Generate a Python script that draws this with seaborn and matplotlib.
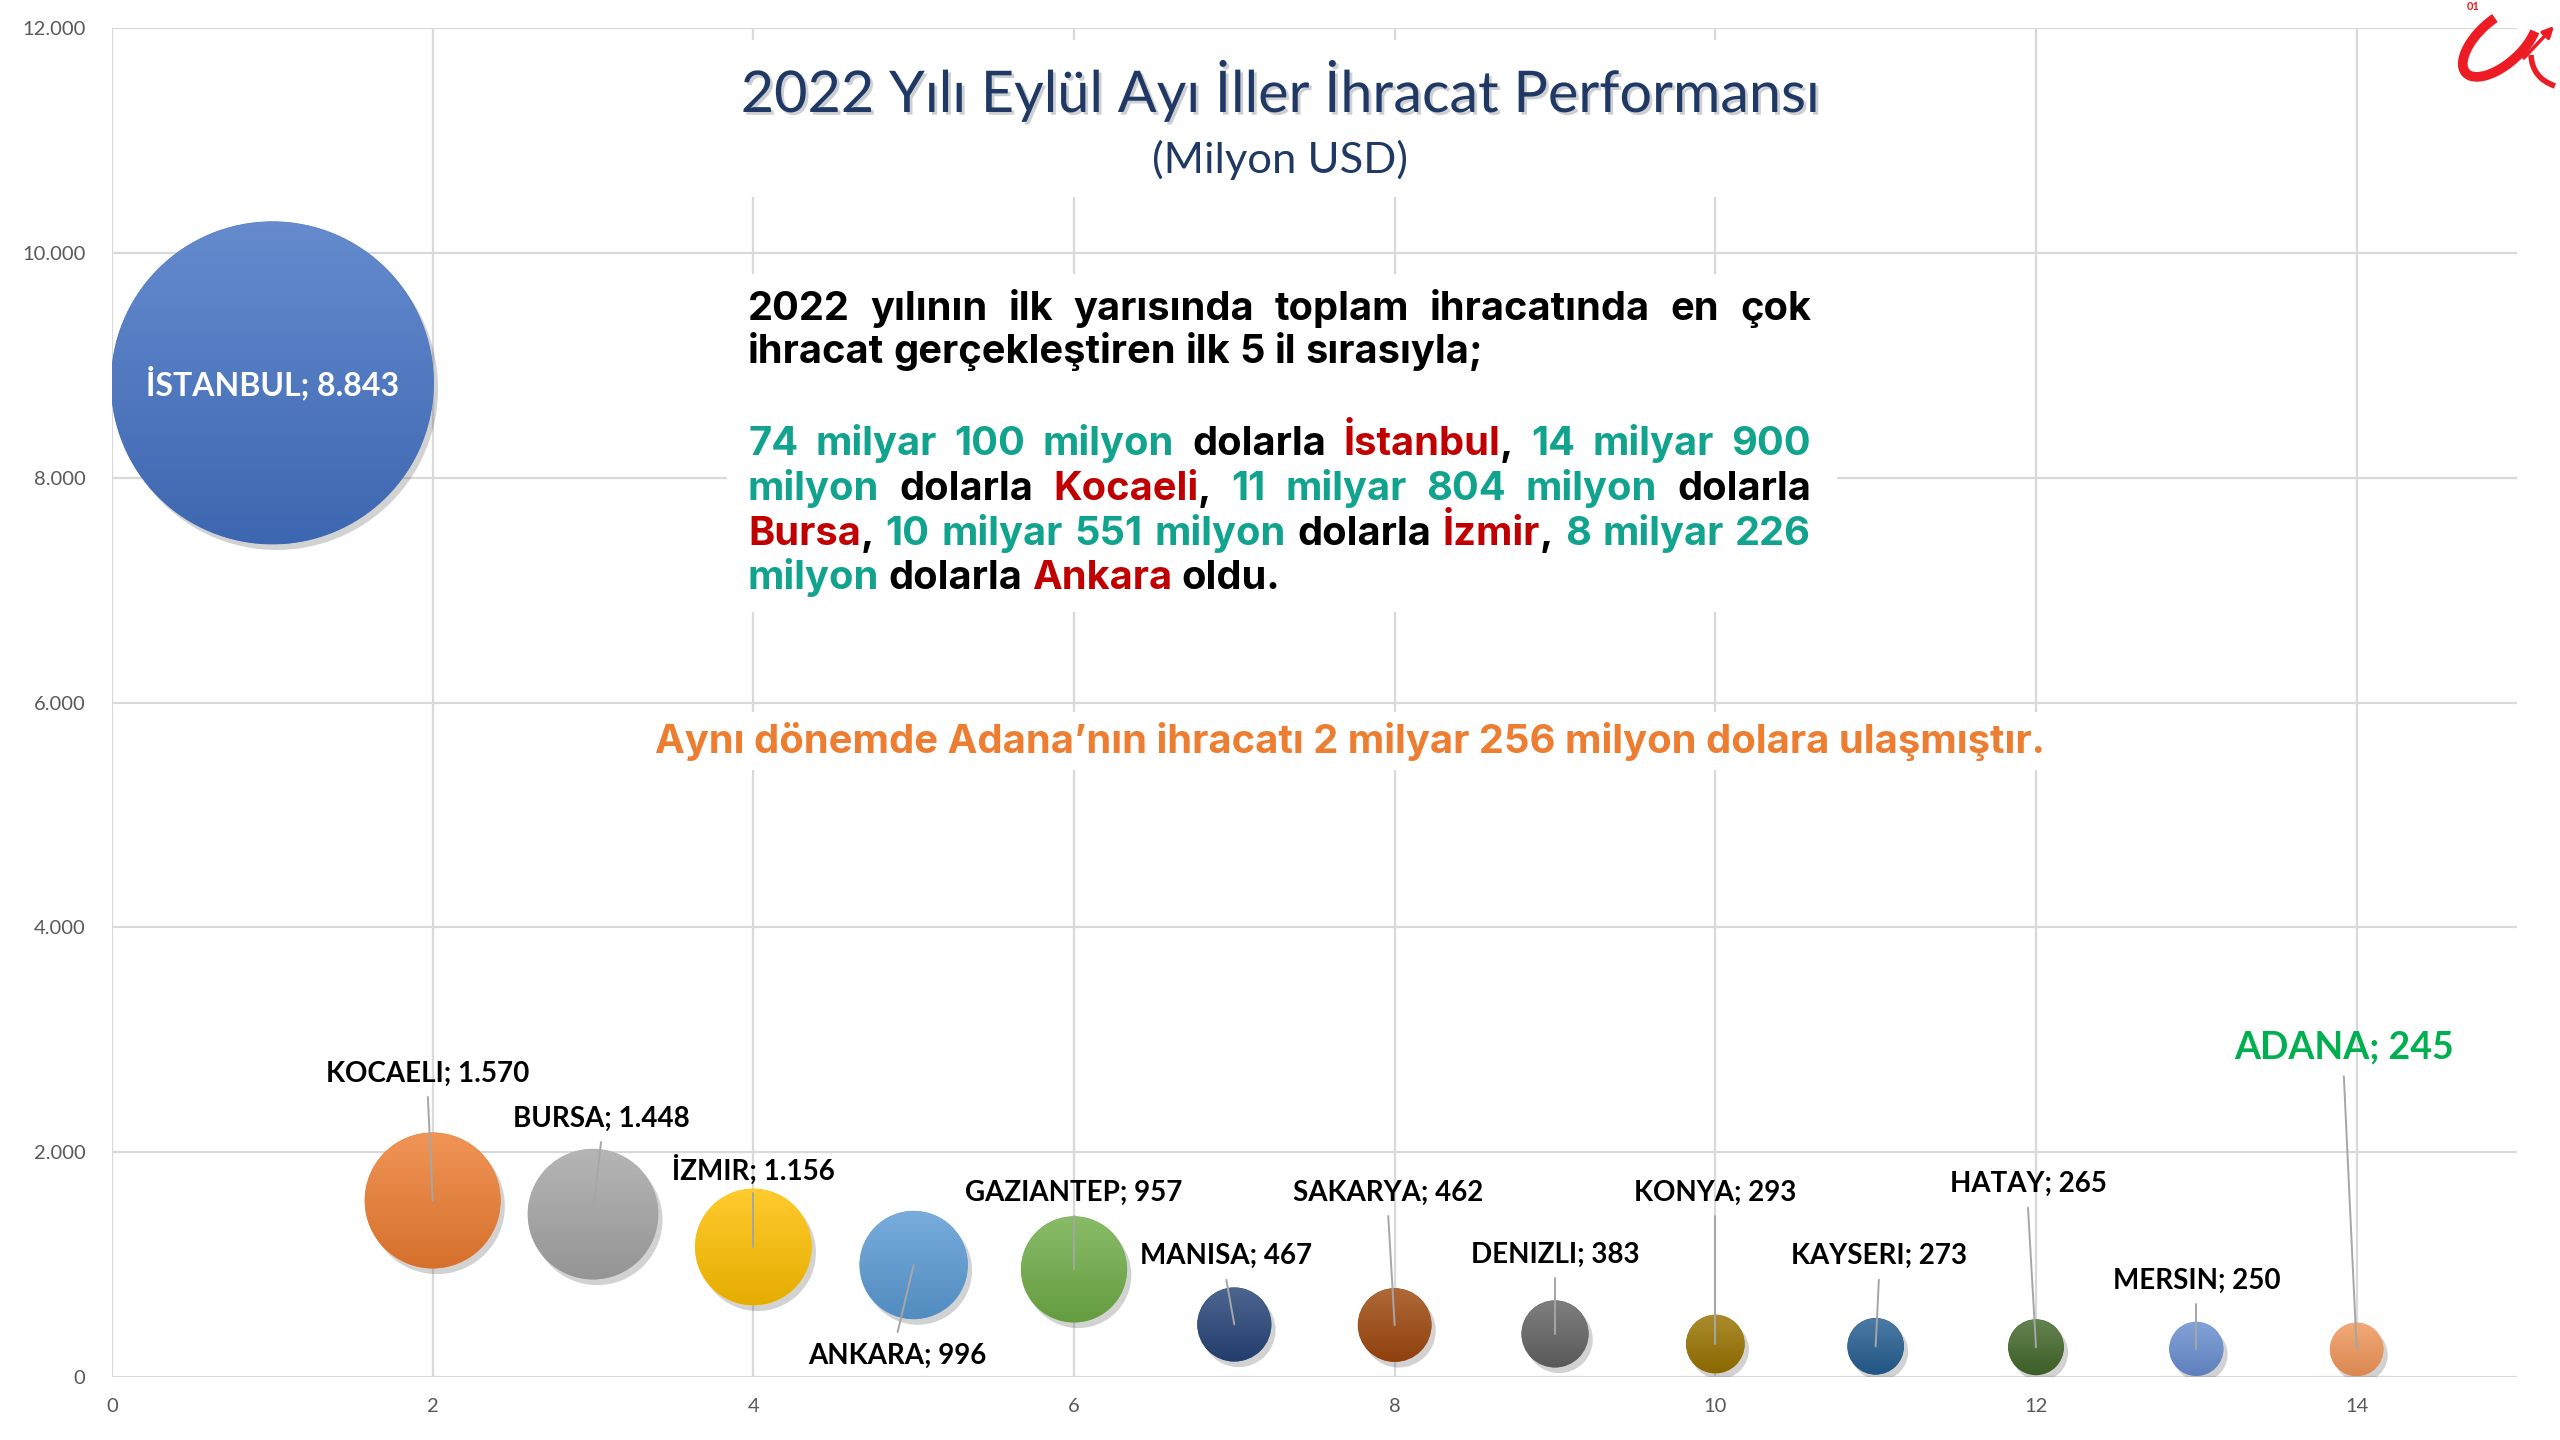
import numpy as np
import pandas as pd
import matplotlib
matplotlib.use("Agg")
import matplotlib.pyplot as plt
import matplotlib.patheffects as pe
from matplotlib.patches import Rectangle, Arc, FancyArrowPatch, PathPatch, Circle
from matplotlib.path import Path
from matplotlib.transforms import IdentityTransform
from matplotlib.font_manager import FontProperties
from matplotlib.colors import to_rgb
import seaborn as sns

# ---------------- data ----------------
cities = ["İSTANBUL", "KOCAELI", "BURSA", "İZMIR", "ANKARA", "GAZIANTEP", "MANISA",
          "SAKARYA", "DENIZLI", "KONYA", "KAYSERI", "HATAY", "MERSIN", "ADANA"]
exports = [8843, 1570, 1448, 1156, 996, 957, 467, 462, 383, 293, 273, 265, 250, 245]
ranks = list(range(1, 15))
colors = ["#4472C4", "#ED7D31", "#A5A5A5", "#FFC000", "#5B9BD5", "#70AD47", "#264478",
          "#9E480E", "#636363", "#997300", "#255E91", "#43682B", "#698ED0", "#F1975A"]
xticks = [0, 2, 4, 6, 8, 10, 12, 14]
yticks = [0, 2000, 4000, 6000, 8000, 10000, 12000]
ytick_labels = ["0", "2.000", "4.000", "6.000", "8.000", "10.000", "12.000"]
title = "2022 Yılı Eylül Ayı İller İhracat Performansı"
subtitle = "(Milyon USD)"
orange_note = "Aynı dönemde Adana’nın ihracatı 2 milyar 256 milyon dolara ulaşmıştır."

TEAL, RED, BLK = "#12A38F", "#C00000", "#000000"
paragraph = [
    [[("2022", BLK)], [("yılının", BLK)], [("ilk", BLK)], [("yarısında", BLK)], [("toplam", BLK)],
     [("ihracatında", BLK)], [("en", BLK)], [("çok", BLK)]],
    [[("ihracat", BLK)], [("gerçekleştiren", BLK)], [("ilk", BLK)], [("5", BLK)], [("il", BLK)],
     [("sırasıyla;", BLK)]],
    None,
    [[("74", TEAL)], [("milyar", TEAL)], [("100", TEAL)], [("milyon", TEAL)], [("dolarla", BLK)],
     [("İstanbul", RED), (",", BLK)], [("14", TEAL)], [("milyar", TEAL)], [("900", TEAL)]],
    [[("milyon", TEAL)], [("dolarla", BLK)], [("Kocaeli", RED), (",", BLK)], [("11", TEAL)],
     [("milyar", TEAL)], [("804", TEAL)], [("milyon", TEAL)], [("dolarla", BLK)]],
    [[("Bursa", RED), (",", BLK)], [("10", TEAL)], [("milyar", TEAL)], [("551", TEAL)],
     [("milyon", TEAL)], [("dolarla", BLK)], [("İzmir", RED), (",", BLK)], [("8", TEAL)],
     [("milyar", TEAL)], [("226", TEAL)]],
    [[("milyon", TEAL)], [("dolarla", BLK)], [("Ankara", RED)], [("oldu.", BLK)]],
]
justify = [True, False, False, True, True, True, False]

# label anchor positions (layout, data coords)
label_x = [1.0, 1.97, 3.05, 4.0, 4.9, 6.0, 6.95, 7.96, 9.0, 10.0, 11.02, 11.95, 13.0, 13.92]
label_y = [8843, 2700, 2300, 1845, 190, 1642, 1075, 1642, 1090, 1642, 1075, 1715, 857, 2935]

# ---------------- figure ----------------
sns.set_theme(style="white")
plt.rcParams['font.family'] = ['Lato', 'DejaVu Sans']

W, H = 2560, 1440
fig = plt.figure(figsize=(W / 100, H / 100), dpi=100)
fig.patch.set_facecolor("white")
AX_L, AX_R, AX_T, AX_B = 112, 2517, 28, 1377
ax = fig.add_axes([AX_L / W, 1 - AX_B / H, (AX_R - AX_L) / W, (AX_B - AX_T) / H])

df = pd.DataFrame({"sira": ranks, "ihracat": exports, "il": cities})
sns.scatterplot(data=df, x="sira", y="ihracat", hue="il", palette=colors,
                size="ihracat", sizes=(0, 54100), size_norm=(0, max(exports)),
                legend=False, ax=ax, linewidth=0, zorder=3)
coll = ax.collections[0]
coll.set_path_effects([pe.SimplePatchShadow(offset=(3, -4), shadow_rgbFace=(0.2, 0.2, 0.2), alpha=0.22),
                       pe.Normal()])

XLIM, YLIM = (0, 15), (0, 12000)
ax.set_xlim(*XLIM)
ax.set_ylim(*YLIM)
ax.set_xticks(xticks)
ax.set_yticks(yticks, labels=ytick_labels)
ax.grid(True, color="#D9D9D9", linewidth=1.6)
ax.set_axisbelow(True)
for s in ax.spines.values():
    s.set_visible(False)
ax.set_xlabel("")
ax.set_ylabel("")
ax.tick_params(axis="both", length=0, labelsize=14.5, labelcolor="#595959")
ax.tick_params(axis="x", pad=15)
ax.tick_params(axis="y", pad=19)

# vertical gradient fill on each bubble (lighter top, darker bottom), clipped to the marker
fig.canvas.draw()
t = np.linspace(0, 1, 256)[:, None]
for (xd, yd), s, col in zip(coll.get_offsets(), coll.get_sizes(), colors):
    base = np.array(to_rgb(col))
    top = base + (1 - base) * 0.18
    bot = base * 0.9
    rgb = top[None, :] * (1 - t) + bot[None, :] * t
    img = np.repeat(rgb[:, None, :], 2, axis=1)
    cx, cy = ax.transData.transform((xd, yd))
    r = np.sqrt(s) * fig.dpi / 72 / 2
    (x0, y0) = ax.transData.inverted().transform((cx - r, cy - r))
    (x1, y1) = ax.transData.inverted().transform((cx + r, cy + r))
    im = ax.imshow(img, extent=(x0, x1, y0, y1), origin="upper", aspect="auto",
                   interpolation="bilinear", zorder=3.5)
    im.set_clip_path(Circle((cx, cy), r - 0.3, transform=IdentityTransform()))
ax.set_xlim(*XLIM)
ax.set_ylim(*YLIM)

# data labels with leader lines
for i, (c, v) in enumerate(zip(cities, exports)):
    lab = f"{c}; {v:,}".replace(",", ".")
    if i == 0:
        ax.text(ranks[i], exports[i], lab, ha="center", va="center", color="white",
                fontsize=23, fontweight="bold", zorder=6)
        continue
    big = (c == "ADANA")
    fs = 27 if big else 20
    col = "#00B050" if big else "black"
    lx, ly = label_x[i], label_y[i]
    ax.text(lx, ly, lab, ha="center", va="center", color=col, fontsize=fs,
            fontweight="bold", zorder=6)
    gap = 260 if big else 210
    start = ly + gap if ly < exports[i] else ly - gap
    ax.plot([lx, ranks[i]], [start, exports[i]], color="#A6A6A6", lw=1.4, zorder=5)

# ---------------- overlay texts ----------------
def fx(px):
    return px / W

def fy(py):
    return 1 - py / H

def white_box(x0, y0, x1, y1):
    fig.patches.append(Rectangle((fx(x0), fy(y1)), (x1 - x0) / W, (y1 - y0) / H,
                                 transform=fig.transFigure, facecolor="white",
                                 edgecolor="none", zorder=1))

white_box(700, 40, 1860, 197)
white_box(727, 274, 1837, 612)
white_box(637, 712, 2066, 770)

fig.canvas.draw()
R = fig.canvas.get_renderer()

def text_w(s, size, family, weight):
    fp = FontProperties(family=family, weight=weight, size=size)
    w, h, d = R.get_text_width_height_descent(s, fp, ismath=False)
    return w

def fit_size(s, target, family, weight, base=20.0):
    return base * target / text_w(s, base, family, weight)

TITLE_FONT = "Lato"
fs_t = fit_size(title, 1081, TITLE_FONT, "normal")
fig.text(0.5, fy(112), title, ha="center", va="baseline", fontsize=fs_t,
         family=TITLE_FONT, color="#1F3864", zorder=3,
         path_effects=[pe.SimplePatchShadow(offset=(2, -2), alpha=0.2), pe.Normal()])
fs_s = fit_size(subtitle, 255, TITLE_FONT, "normal")
fig.text(0.5, fy(173), subtitle, ha="center", va="baseline", fontsize=fs_s,
         family=TITLE_FONT, color="#1F3864", zorder=3)

PFONT = "Inter"
line2 = " ".join("".join(tt for tt, _ in w) for w in paragraph[1])
fs_p = fit_size(line2, 735, PFONT, "bold")
space_w = text_w("a a", fs_p, PFONT, "bold") - text_w("aa", fs_p, PFONT, "bold")
P_LEFT, P_RIGHT = 748, 1811
baselines = [320, 363, None, 455, 500, 545, 589]
for line, just, by in zip(paragraph, justify, baselines):
    if line is None:
        continue
    wws = []
    for word in line:
        wws.append([text_w(tt, fs_p, PFONT, "bold") for tt, _ in word])
    total = sum(sum(ws) for ws in wws)
    gap = (P_RIGHT - P_LEFT - total) / (len(line) - 1) if just else space_w
    x = P_LEFT
    for word, ws in zip(line, wws):
        for (tt, col), w in zip(word, ws):
            fig.text(fx(x), fy(by), tt, ha="left", va="baseline", fontsize=fs_p,
                     family=PFONT, fontweight="bold", color=col, zorder=3)
            x += w
        x += gap

fs_o = fit_size(orange_note, 1393, PFONT, "bold")
fig.text(fx(655), fy(753), orange_note, ha="left", va="baseline", fontsize=fs_o,
         family=PFONT, fontweight="bold", color="#ED7D31", zorder=3)

# ---------------- logo ----------------
lax = fig.add_axes([2445 / W, 1 - 100 / H, 115 / W, 100 / H])
lax.set_xlim(2445, 2560)
lax.set_ylim(1440 - 100, 1440)
lax.set_aspect("equal", adjustable="datalim")
lax.axis("off")
LRED = "#ED1C24"
lax.add_patch(Arc((2500, 1440 - 42), 92, 44, angle=42, theta1=60, theta2=335,
                  color=LRED, lw=7))
lax.add_patch(FancyArrowPatch((2522, 1440 - 60), (2556, 1440 - 24), arrowstyle="-|>",
                              mutation_scale=16, color=LRED, lw=2.5))
tail = Path([(2531, 1440 - 55), (2532, 1440 - 78), (2555, 1440 - 86)],
            [Path.MOVETO, Path.CURVE3, Path.CURVE3])
lax.add_patch(PathPatch(tail, facecolor="none", edgecolor=LRED, lw=4))
lax.text(2473, 1440 - 7, "01", ha="center", va="center", fontsize=8, fontweight="bold",
         color=LRED)

fig.savefig("out.png", dpi=100, facecolor="white")
